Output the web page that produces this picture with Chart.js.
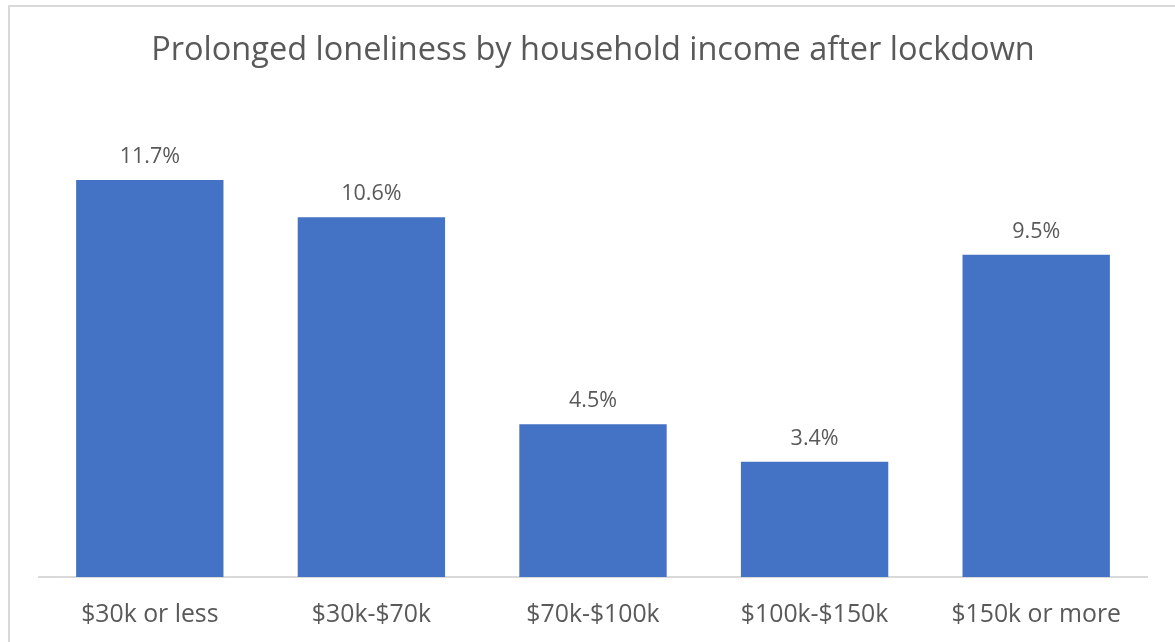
<!DOCTYPE html>
<html>
<head>
<meta charset="utf-8">
<script src="https://cdn.jsdelivr.net/npm/chart.js@4.4.1/dist/chart.umd.min.js"></script>
<style>
  html, body { margin: 0; padding: 0; background: #ffffff; overflow: hidden; }
  #frame {
    position: absolute; left: 8px; top: 5px; width: 1175px; height: 650px;
    border-top: 2px solid #d9d9d9; border-left: 2px solid #d9d9d9;
  }
  #wrap { position: absolute; left: 0; top: 0; width: 1175px; height: 642px; }
</style>
</head>
<body>
<div id="frame"></div>
<div id="wrap"><canvas id="chart" width="1175" height="642"></canvas></div>
<script>
const titleText = 'Prolonged loneliness by household income after lockdown';
const incomeBands = ['$30k or less', '$30k-$70k', '$70k-$100k', '$100k-$150k', '$150k or more'];
const lonelinessPct = [11.7, 10.6, 4.5, 3.4, 9.5];

const FONT = '"Open Sans", "Noto Sans", sans-serif';
const TEXT = '#595959';

// Writes each bar's value just above it
const valueLabels = {
  id: 'valueLabels',
  afterDatasetsDraw(chart) {
    const ctx = chart.ctx;
    const meta = chart.getDatasetMeta(0);
    ctx.save();
    ctx.font = '21.5px ' + FONT;
    ctx.fillStyle = TEXT;
    ctx.textAlign = 'center';
    ctx.textBaseline = 'alphabetic';
    meta.data.forEach((bar, i) => {
      ctx.fillText(lonelinessPct[i].toFixed(1) + '%', bar.x, bar.y - 17);
    });
    ctx.restore();
  }
};

new Chart(document.getElementById('chart'), {
  type: 'bar',
  data: {
    labels: incomeBands,
    datasets: [{
      data: lonelinessPct,
      backgroundColor: '#4472c4',
      borderWidth: 0,
      barPercentage: 1,
      categoryPercentage: 0.665
    }]
  },
  options: {
    responsive: false,
    animation: false,
    layout: { padding: { left: 39, right: 28, top: 0, bottom: 0 } },
    plugins: {
      legend: { display: false },
      tooltip: { enabled: false },
      title: {
        display: true,
        text: titleText,
        color: TEXT,
        font: { family: FONT, size: 32.5, weight: 'normal', lineHeight: 1.2 },
        padding: { top: 31, bottom: 32 }
      }
    },
    scales: {
      y: { display: false, min: 0, max: 14 },
      x: {
        grid: { display: false, drawTicks: false },
        border: { display: true, color: '#d9d9d9', width: 2 },
        ticks: { color: TEXT, font: { family: FONT, size: 24.8 }, padding: 23, maxRotation: 0 },
        afterFit(scale) { scale.height = 65; }
      }
    }
  },
  plugins: [valueLabels]
});
</script>
</body>
</html>
